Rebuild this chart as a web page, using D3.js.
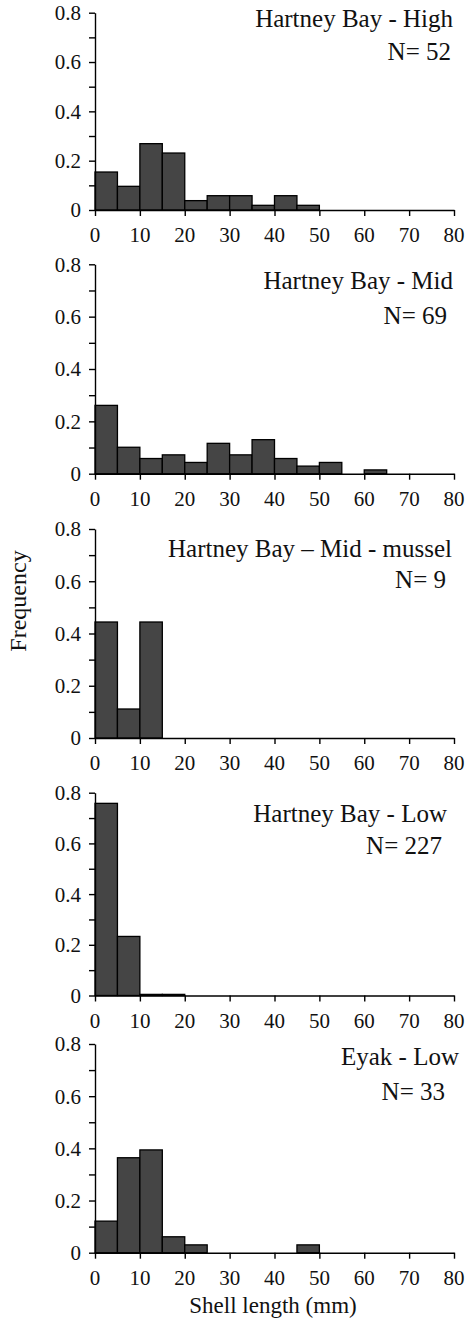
<!DOCTYPE html>
<html>
<head>
<meta charset="utf-8">
<script src="https://cdn.jsdelivr.net/npm/d3@7"></script>
<style>
  body { margin: 0; background: #fff; }
  #chart-area { position: relative; width: 475px; height: 1320px; }
  #chart-area svg { position: absolute; left: 0; top: 0; display: block; }
  .axis path, .axis line { stroke: #000; stroke-width: 1.4px; }
  .lbl {
    position: absolute;
    white-space: nowrap;
    font-family: "Liberation Serif", "Times New Roman", serif;
    color: #111;
  }
</style>
</head>
<body>
<div id="chart-area"></div>
<script>
// bins are 5 mm wide, starting at these lengths
const binStarts = [0, 5, 10, 15, 20, 25, 30, 35, 40, 45, 50, 55, 60, 65, 70, 75]

// frequencies per bin
const hbHigh   = [0.154, 0.096, 0.269, 0.231, 0.038, 0.058, 0.058, 0.019, 0.058, 0.019, 0, 0, 0, 0, 0, 0]
const hbMid    = [0.261, 0.101, 0.058, 0.072, 0.043, 0.116, 0.072, 0.130, 0.058, 0.029, 0.043, 0, 0.0145, 0, 0, 0]
const hbMussel = [0.444, 0.111, 0.444, 0, 0, 0, 0, 0, 0, 0, 0, 0, 0, 0, 0, 0]
const hbLow    = [0.758, 0.233, 0.0044, 0.0044, 0, 0, 0, 0, 0, 0, 0, 0, 0, 0, 0, 0]
const eyakLow  = [0.121, 0.364, 0.394, 0.061, 0.030, 0, 0, 0, 0, 0.030, 0, 0, 0, 0, 0, 0]

const panelTitles = ["Hartney Bay - High", "Hartney Bay - Mid", "Hartney Bay \u2013 Mid - mussel", "Hartney Bay - Low", "Eyak - Low"]
const panelN = [52, 69, 9, 227, 33]
const panelSeries = [hbHigh, hbMid, hbMussel, hbLow, eyakLow]

// tick values
const xTicks = [0, 10, 20, 30, 40, 50, 60, 70, 80]
const yTicks = [0, 0.1, 0.2, 0.3, 0.4, 0.5, 0.6, 0.7, 0.8]
const yLabelTicks = [0, 0.2, 0.4, 0.6, 0.8]
const yLabelText = ["0", "0.2", "0.4", "0.6", "0.8"]

const WIDTH = 475
const HEIGHT = 1320
const X_LEFT = 95
const X_RIGHT = 454
const BASE = 0.8375 // baseline offset (em) inside a 1em line box

// per-panel placement (plot top/bottom, title and N baselines + right edges)
const layout = [
  { top: 12.7,  bottom: 210,   titleY: 27,    nY: 60,    titleX: 453, nX: 451 },
  { top: 264.3, bottom: 473.7, titleY: 289.3, nY: 324.3, titleX: 453, nX: 447 },
  { top: 529,   bottom: 738,   titleY: 556.7, nY: 588.3, titleX: 452, nX: 446 },
  { top: 792.7, bottom: 995.5, titleY: 822.3, nY: 854.3, titleX: 447, nX: 442 },
  { top: 1044,  bottom: 1252.7,titleY: 1065,  nY: 1100,  titleX: 459, nX: 445 }
]

const area = d3.select("#chart-area")
const svg = area.append("svg")
  .attr("width", WIDTH)
  .attr("height", HEIGHT)

// html text layer (serif fonts render reliably here)
function label(x, y, txt, size, anchor) {
  const shift = anchor === "end" ? "-100%" : anchor === "middle" ? "-50%" : "0"
  return area.append("div")
    .attr("class", "lbl")
    .style("left", x + "px")
    .style("top", (y - BASE * size) + "px")
    .style("font-size", size + "px")
    .style("line-height", size + "px")
    .style("transform", `translateX(${shift})`)
    .text(txt)
}

const x = d3.scaleLinear().domain([0, 80]).range([X_LEFT, X_RIGHT])

panelSeries.forEach((series, i) => {
  const L = layout[i]
  const y = d3.scaleLinear().domain([0, 0.8]).range([L.bottom, L.top])
  const g = svg.append("g")

  // bars
  const bars = binStarts.map((b, j) => ({ x0: b, x1: b + 5, v: series[j] }))
    .filter(d => d.v > 0)
  g.selectAll("rect").data(bars).enter().append("rect")
    .attr("x", d => x(d.x0))
    .attr("y", d => y(d.v))
    .attr("width", d => x(d.x1) - x(d.x0))
    .attr("height", d => y(0) - y(d.v))
    .attr("fill", "#454545")
    .attr("stroke", "#000")
    .attr("stroke-width", 1.3)

  // axes (lines from d3, labels in html layer)
  g.append("g")
    .attr("class", "axis")
    .attr("transform", `translate(0, ${L.bottom})`)
    .call(d3.axisBottom(x).tickValues(xTicks).tickSize(6).tickSizeOuter(0).tickFormat(""))
  g.append("g")
    .attr("class", "axis")
    .attr("transform", `translate(${X_LEFT}, 0)`)
    .call(d3.axisLeft(y).tickValues(yTicks).tickSize(6).tickSizeOuter(0).tickFormat(""))
  g.selectAll(".domain").attr("fill", "none")

  xTicks.forEach(t => label(x(t), L.bottom + 33, String(t), 21, "middle"))
  yLabelTicks.forEach((t, k) => label(X_LEFT - 14, y(t) + 8, yLabelText[k], 21, "end"))

  // panel labels
  label(L.titleX, L.titleY, panelTitles[i], 25, "end")
  label(L.nX, L.nY, "N= " + panelN[i], 25, "end")
})

// axis titles
area.append("div")
  .attr("class", "lbl")
  .style("left", "18px")
  .style("top", "601px")
  .style("font-size", "24px")
  .style("line-height", "24px")
  .style("transform", "translate(-50%, -50%) rotate(-90deg)")
  .text("Frequency")

label(273, 1313, "Shell length (mm)", 23, "middle")
</script>
</body>
</html>
